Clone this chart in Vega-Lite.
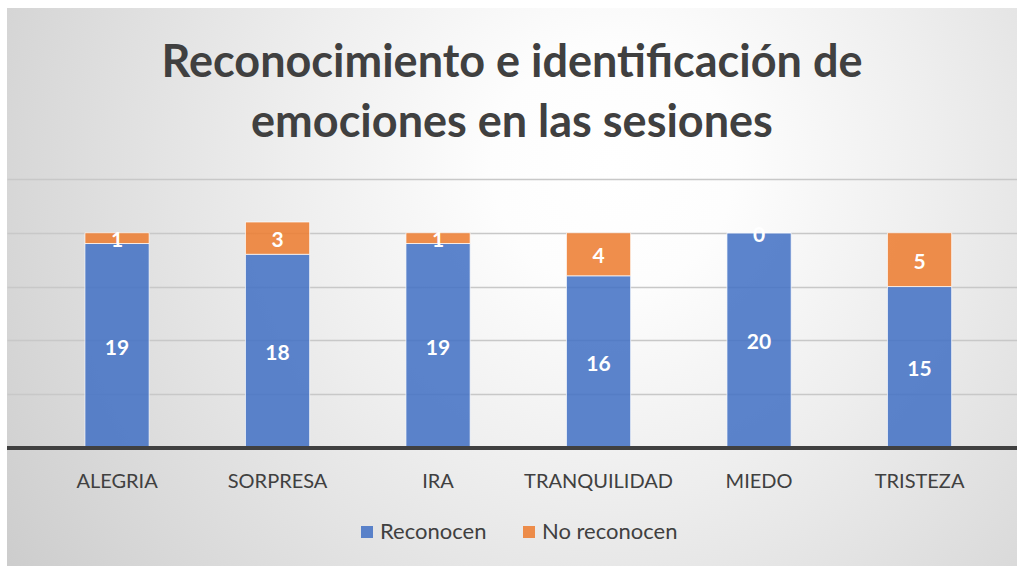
{
  "$schema": "https://vega.github.io/schema/vega-lite/v6.json",
  "width": 1010,
  "height": 558,
  "autosize": {"type": "none"},
  "padding": {"left": 7, "top": 8, "right": 0, "bottom": 0},
  "background": "#ffffff",
  "title": {
    "text": ["Reconocimiento e identificación de", "emociones en las sesiones"],
    "font": "Lato",
    "fontSize": 45,
    "fontWeight": "bold",
    "color": "#404040",
    "anchor": "middle",
    "frame": "group",
    "baseline": "alphabetic",
    "offset": -174,
    "lineHeight": 60
  },
  "data": {
    "values": [
      {"emocion": "ALEGRIA", "serie": "Reconocen", "n": 19},
      {"emocion": "ALEGRIA", "serie": "No reconocen", "n": 1},
      {"emocion": "SORPRESA", "serie": "Reconocen", "n": 18},
      {"emocion": "SORPRESA", "serie": "No reconocen", "n": 3},
      {"emocion": "IRA", "serie": "Reconocen", "n": 19},
      {"emocion": "IRA", "serie": "No reconocen", "n": 1},
      {"emocion": "TRANQUILIDAD", "serie": "Reconocen", "n": 16},
      {"emocion": "TRANQUILIDAD", "serie": "No reconocen", "n": 4},
      {"emocion": "MIEDO", "serie": "Reconocen", "n": 20},
      {"emocion": "MIEDO", "serie": "No reconocen", "n": 0},
      {"emocion": "TRISTEZA", "serie": "Reconocen", "n": 15},
      {"emocion": "TRISTEZA", "serie": "No reconocen", "n": 5}
    ]
  },
  "layer": [
    {
      "mark": {"type": "bar", "fillOpacity": 0.87, "stroke": "#ffffff", "strokeWidth": 1, "strokeOpacity": 0.7},
      "encoding": {
        "x": {
          "field": "emocion",
          "type": "nominal",
          "sort": null,
          "scale": {
            "domain": ["ALEGRIA", "SORPRESA", "IRA", "TRANQUILIDAD", "MIEDO", "TRISTEZA"],
            "paddingInner": 0.6,
            "paddingOuter": 0.4464,
            "align": 0.544
          },
          "axis": {
            "orient": "bottom",
            "offset": -118,
            "domain": false,
            "ticks": false,
            "grid": false,
            "labelPadding": 23,
            "labelFont": "Lato",
            "labelFontSize": 20,
            "labelColor": "#404040",
            "labelAngle": 0,
            "title": null
          }
        },
        "y": {
          "field": "n",
          "type": "quantitative",
          "stack": "zero",
          "scale": {"domain": [-10.97, 40.89], "nice": false, "zero": false},
          "axis": {
            "values": [5, 10, 15, 20, 25],
            "labels": false,
            "ticks": false,
            "domain": false,
            "grid": true,
            "gridColor": "#c8c8c8",
            "gridWidth": 1.3,
            "title": null
          }
        },
        "color": {
          "field": "serie",
          "type": "nominal",
          "scale": {"domain": ["Reconocen", "No reconocen"], "range": ["#4472C4", "#ED7D31"]},
          "legend": {
            "orient": "none",
            "legendX": 349,
            "legendY": 513,
            "direction": "horizontal",
            "title": null,
            "symbolType": "square",
            "symbolSize": 144,
            "symbolOpacity": 0.87,
            "symbolStrokeWidth": 0,
            "labelFont": "Lato",
            "labelFontSize": 22,
            "labelColor": "#404040",
            "labelOffset": 2,
            "columnPadding": 31,
            "padding": 0
          }
        },
        "order": {"field": "serie", "sort": "descending"}
      }
    },
    {
      "mark": {"type": "rule", "color": "#404040", "strokeWidth": 3},
      "encoding": {
        "y": {"datum": 0}
      }
    },
    {
      "mark": {"type": "text", "font": "Lato", "fontSize": 21, "fontWeight": "bold", "color": "#ffffff", "baseline": "middle", "dy": 3},
      "encoding": {
        "x": {"field": "emocion", "type": "nominal", "sort": null},
        "y": {"field": "n", "type": "quantitative", "stack": "zero", "bandPosition": 0.5},
        "detail": {"field": "serie"},
        "order": {"field": "serie", "sort": "descending"},
        "text": {"field": "n", "type": "quantitative"}
      }
    }
  ],
  "config": {
    "view": {
      "stroke": null,
      "fill": {
        "gradient": "radial",
        "x1": 0.6, "y1": 0.38, "r1": 0,
        "x2": 0.6, "y2": 0.38, "r2": 0.8,
        "stops": [
          {"offset": 0, "color": "#ffffff"},
          {"offset": 0.15, "color": "#fdfdfd"},
          {"offset": 0.4, "color": "#eeeeee"},
          {"offset": 0.7, "color": "#dadada"},
          {"offset": 1, "color": "#c6c6c6"}
        ]
      }
    }
  }
}
